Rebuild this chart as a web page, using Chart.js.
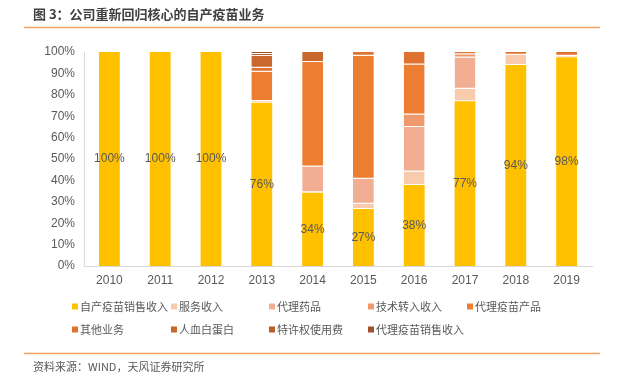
<!DOCTYPE html>
<html><head><meta charset="utf-8">
<script src="https://cdn.jsdelivr.net/npm/chart.js@4"></script>
<style>html,body{margin:0;padding:0;background:#fff;}#wrap{width:625px;height:378px;position:relative;}</style>
</head><body><div id="wrap"><canvas id="c" width="625" height="378"></canvas></div>
<script>
const categories = ['2010','2011','2012','2013','2014','2015','2016','2017','2018','2019'];
const seriesNames = ['自产疫苗销售收入','服务收入','代理药品','技术转入收入','代理疫苗产品','其他业务','人血白蛋白','特许权使用费','代理疫苗销售收入'];
const ziChan     = [100,100,100,76.3,34.2,26.6,37.8,77.0,93.9,97.6];
const fuWu       = [0,0,0,0.8,0.3,2.5,6.4,5.8,4.8,0.7];
const daiLiYaoPin= [0,0,0,0,12.0,11.7,20.7,14.6,0,0];
const jiShu      = [0,0,0,0,0,0,5.9,1.6,0,0];
const daiLiYiMiao= [0,0,0,13.7,48.8,57.4,23.4,0,0,0];
const qiTa       = [0,0,0,1.8,0,1.8,5.8,1.0,1.3,1.7];
const baiDanBai  = [0,0,0,5.6,4.7,0,0,0,0,0];
const teXu       = [0,0,0,0.9,0,0,0,0,0,0];
const daiLiXiaoShou=[0,0,0,0.9,0,0,0,0,0,0];
const yTicks = [0,10,20,30,40,50,60,70,80,90,100];
const seriesColors = ['#FFC000','#F8CBAD','#F1AE93','#EF9A6E','#ED7D31','#DF7230','#C9682C','#B85E28','#A0522D'];
const allSeries = [ziChan,fuWu,daiLiYaoPin,jiShu,daiLiYiMiao,qiTa,baiDanBai,teXu,daiLiXiaoShou];
const titleText = '图 3：公司重新回归核心的自产疫苗业务';
const sourceText = '资料来源：WIND，天风证券研究所';

const CJK = '"Noto Sans CJK SC", "Liberation Sans", sans-serif';
const LAT = '"Liberation Sans", Arial, sans-serif';

const datasets = allSeries.map((d,i)=>({
  label: seriesNames[i], data: d, backgroundColor: seriesColors[i],
  borderWidth: c => (c.raw > 0 && i > 0) ? {top:0, bottom:1, left:0, right:0} : 0,
  borderColor:'rgba(255,255,255,0.35)', borderSkipped:false,
  barPercentage: 0.41, categoryPercentage: 1.0
}));

const decor = {
  id:'decor',
  afterDraw(chart){
    const ctx = chart.ctx;
    ctx.save();
    ctx.fillStyle = '#404040';
    ctx.font = 'bold 13px ' + CJK;
    ctx.textBaseline = 'middle'; ctx.textAlign = 'left';
    ctx.fillText(titleText, 33, 14);
    ctx.strokeStyle = '#F4A261'; ctx.lineWidth = 1.5;
    ctx.beginPath(); ctx.moveTo(24, 27.5); ctx.lineTo(600, 27.5); ctx.stroke();
    ctx.beginPath(); ctx.moveTo(24, 353.5); ctx.lineTo(600, 353.5); ctx.stroke();
    ctx.fillStyle = '#595959';
    ctx.font = '11px ' + CJK;
    ctx.fillText(sourceText, 33, 367);
    ctx.font = '11px ' + CJK;
    const colX = [72,171,269,368,467];
    const rowY = [306.5,329.5];
    chart.data.datasets.forEach((ds,i)=>{
      const r = Math.floor(i/5), c = i%5;
      const x = colX[c], y = rowY[r];
      ctx.fillStyle = ds.backgroundColor;
      ctx.fillRect(x, y-3, 6, 6);
      ctx.fillStyle = '#595959';
      ctx.fillText(ds.label, x+8, y);
    });
    ctx.restore();
  },
  afterDatasetsDraw(chart){
    const ctx = chart.ctx;
    const meta = chart.getDatasetMeta(0);
    ctx.save();
    ctx.fillStyle = '#595959';
    ctx.font = '12px ' + LAT;
    ctx.textAlign = 'center'; ctx.textBaseline = 'middle';
    meta.data.forEach((bar,i)=>{
      const v = chart.data.datasets[0].data[i];
      ctx.fillText(Math.round(v)+'%', bar.x, (bar.y+bar.base)/2);
    });
    ctx.restore();
  }
};

new Chart(document.getElementById('c'), {
  type:'bar',
  data:{labels:categories, datasets},
  options:{
    responsive:false, animation:false,
    layout:{padding:{left:0,right:33,top:52,bottom:0}},
    plugins:{legend:{display:false}, tooltip:{enabled:false}},
    scales:{
      x:{stacked:true,
        grid:{display:false, drawTicks:false},
        border:{display:true,color:'#D9D9D9',width:1},
        ticks:{font:{family:LAT,size:12},color:'#595959',padding:7},
        afterFit(s){ s.height = 112; }
      },
      y:{stacked:true, min:0, max:100,
        afterBuildTicks(s){ s.ticks = yTicks.map(v=>({value:v})); },
        grid:{display:false, drawTicks:false},
        border:{display:true,color:'#D9D9D9',width:1},
        ticks:{font:{family:LAT,size:12},color:'#595959',padding:9,callback:v=>v+'%'},
        afterFit(s){ s.width = 84; }
      }
    }
  },
  plugins:[decor]
});
</script></body></html>
